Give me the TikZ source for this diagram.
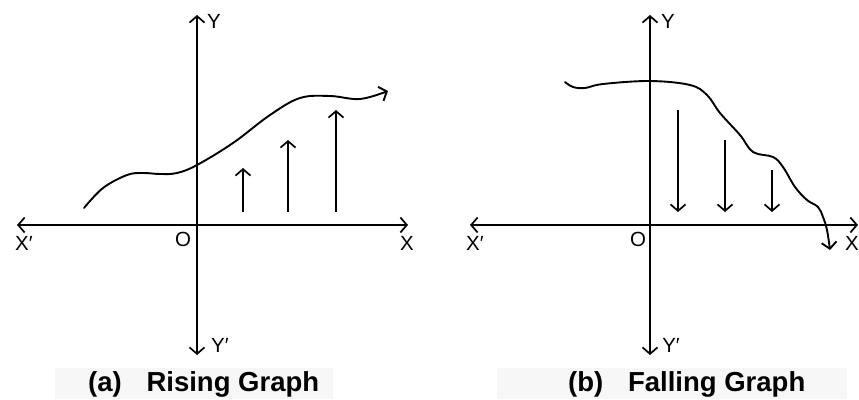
\documentclass[tikz,border=0pt]{standalone}
\usepackage{fontspec}
\setmainfont{Liberation Sans}
\usetikzlibrary{arrows.meta}

\begin{document}
\begin{tikzpicture}[
  x=1pt,y=-1pt,
  axis/.style={line width=1.7pt,
               {Straight Barb[length=6.5pt,width=15pt]}-{Straight Barb[length=6.5pt,width=15pt]}},
  bar/.style={line width=1.7pt,-{Straight Barb[length=6.5pt,width=15pt]}},
  curve/.style={line width=1.9pt,line cap=round,-{Straight Barb[length=6.5pt,width=15pt]}},
  lbl/.style={font=\fontsize{20.5}{20.5}\selectfont,inner sep=0pt},
  captext/.style={font=\fontsize{27.5}{27.5}\selectfont\bfseries,inner sep=0pt},
  band/.style={fill=black!3,draw=none}]
\useasboundingbox (0,0) rectangle (859,399);

% caption bands
\fill[band] (55,368) rectangle (333,399);
\fill[band] (497,368) rectangle (847,399);

% (a) rising graph
\coordinate (axl) at (17,225);
\coordinate (axr) at (408,225);
\coordinate (ayt) at (197,15);
\coordinate (ayb) at (197,355);
\draw[axis] (axl) -- (axr);
\draw[axis] (ayt) -- (ayb);
\node[lbl] (aY)  at (214,21)  {Y};
\node[lbl] (aYp) at (220,345) {Y′};
\node[lbl] (aXp) at (24,243)  {X′};
\node[lbl] (aX)  at (407,243) {X};
\node[lbl] (aO)  at (183,239) {O};
\draw[curve] plot[smooth,tension=0.6] coordinates {
  (84,208) (103,188) (127,175) (143,173) (160,174) (177,173) (197,165)
  (233,143) (270,115) (300,98) (330,96) (360,99) (388,91)};
\foreach \x/\t in {243/168,288/140,336/110}
  \draw[bar] (\x,212) -- (\x,\t);
\node[captext,anchor=west] (acap) at (88,384) {(a)\hspace{0.9em}Rising Graph};

% (b) falling graph
\coordinate (bxl) at (470,225);
\coordinate (bxr) at (858,225);
\coordinate (byt) at (650,15);
\coordinate (byb) at (650,355);
\draw[axis] (bxl) -- (bxr);
\draw[axis] (byt) -- (byb);
\node[lbl] (bY)  at (668,21)  {Y};
\node[lbl] (bYp) at (671,345) {Y′};
\node[lbl] (bXp) at (475,243) {X′};
\node[lbl,anchor=east] (bX) at (859,243) {X};
\node[lbl] (bO)  at (638,239) {O};
\draw[curve] plot[smooth,tension=0.6] coordinates {
  (565,82) (573,87) (585,88) (603,84) (650,81) (690,85) (707,95)
  (720,113) (740,135) (753,152) (773,157) (783,167) (795,187)
  (807,200) (818,207) (823,217) (827,230) (830,250)};
\foreach \x/\t in {678/110,725/140,772/170}
  \draw[bar] (\x,\t) -- (\x,212);
\node[captext,anchor=west] (bcap) at (568,384) {(b)\hspace{0.9em}Falling Graph};
\end{tikzpicture}
\end{document}
